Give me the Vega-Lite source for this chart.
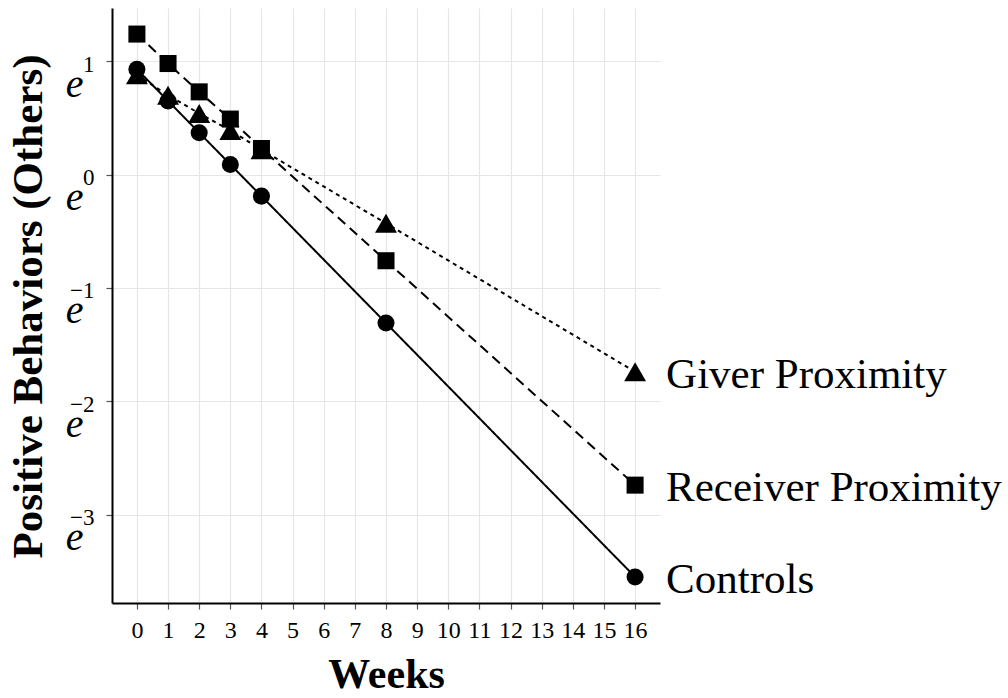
{
  "$schema": "https://vega.github.io/schema/vega-lite/v6.json",
  "width": 548,
  "height": 595,
  "autosize": {"type": "none"},
  "padding": {"left": 112, "top": 8, "right": 348, "bottom": 95},
  "background": "white",
  "config": {
    "view": {"stroke": null},
    "font": "Liberation Serif",
    "axis": {"labelFont": "Liberation Serif", "titleFont": "Liberation Serif"}
  },
  "data": {
    "values": [
      {"group": "Controls", "week": 0, "value": 0.93},
      {"group": "Controls", "week": 1, "value": 0.65},
      {"group": "Controls", "week": 2, "value": 0.37},
      {"group": "Controls", "week": 3, "value": 0.09},
      {"group": "Controls", "week": 4, "value": -0.19},
      {"group": "Controls", "week": 8, "value": -1.31},
      {"group": "Controls", "week": 16, "value": -3.55},
      {"group": "Receiver Proximity", "week": 0, "value": 1.24},
      {"group": "Receiver Proximity", "week": 1, "value": 0.98},
      {"group": "Receiver Proximity", "week": 2, "value": 0.73},
      {"group": "Receiver Proximity", "week": 3, "value": 0.49},
      {"group": "Receiver Proximity", "week": 4, "value": 0.23},
      {"group": "Receiver Proximity", "week": 8, "value": -0.76},
      {"group": "Receiver Proximity", "week": 16, "value": -2.74},
      {"group": "Giver Proximity", "week": 0, "value": 0.88},
      {"group": "Giver Proximity", "week": 1, "value": 0.70},
      {"group": "Giver Proximity", "week": 2, "value": 0.54},
      {"group": "Giver Proximity", "week": 3, "value": 0.39},
      {"group": "Giver Proximity", "week": 4, "value": 0.22},
      {"group": "Giver Proximity", "week": 8, "value": -0.43},
      {"group": "Giver Proximity", "week": 16, "value": -1.74}
    ]
  },
  "encoding": {
    "x": {
      "field": "week",
      "type": "quantitative",
      "scale": {"domain": [-0.8, 16.8], "nice": false, "zero": false},
      "axis": {
        "title": "Weeks",
        "titleFontSize": 42,
        "titleFontWeight": "bold",
        "titleColor": "black",
        "titleY": 84,
        "titleBaseline": "alphabetic",
        "values": [0, 1, 2, 3, 4, 5, 6, 7, 8, 9, 10, 11, 12, 13, 14, 15, 16],
        "labelFontSize": 24,
        "labelColor": "black",
        "labelPadding": 9,
        "labelFlush": false,
        "labelOverlap": false,
        "tickSize": 6,
        "tickColor": "#555555",
        "tickWidth": 1.2,
        "domainColor": "black",
        "domainWidth": 2,
        "grid": true,
        "gridColor": "#e6e6e6",
        "gridWidth": 1.2
      }
    }
  },
  "layer": [
    {
      "mark": {"type": "line", "color": "black", "strokeWidth": 2},
      "encoding": {
        "y": {
          "field": "value",
          "type": "quantitative",
          "scale": {"domain": [-3.78, 1.47], "nice": false, "zero": false},
          "axis": {
            "orient": "left",
            "title": "Positive Behaviors (Others)",
            "titleFontSize": 43,
            "titleFontWeight": "bold",
            "titleColor": "black",
            "titleX": -84,
            "titleY": 298,
            "titleAngle": -90,
            "titleAlign": "center",
            "titleBaseline": "middle",
            "values": [-3, -2, -1, 0, 1],
            "labelExpr": "'e'",
            "labelFontSize": 40,
            "labelFontStyle": "italic",
            "labelColor": "black",
            "labelAlign": "right",
            "labelBaseline": "alphabetic",
            "labelOffset": 35,
            "labelPadding": 23,
            "labelFlush": false,
            "labelOverlap": false,
            "tickSize": 6,
            "tickColor": "#555555",
            "tickWidth": 1.2,
            "domainColor": "black",
            "domainWidth": 2,
            "grid": true,
            "gridColor": "#e6e6e6",
            "gridWidth": 1.2
          }
        },
        "detail": {"field": "group"},
        "strokeDash": {
          "field": "group",
          "type": "nominal",
          "scale": {
            "domain": ["Controls", "Receiver Proximity", "Giver Proximity"],
            "range": [[1, 0], [10, 6], [4, 4]]
          },
          "legend": null
        }
      }
    },
    {
      "transform": [{"filter": "datum.group != 'Giver Proximity'"}],
      "mark": {"type": "point", "filled": true, "color": "black", "opacity": 1, "size": 290},
      "encoding": {
        "y": {
          "field": "value",
          "type": "quantitative",
          "scale": {"domain": [-3.78, 1.47], "nice": false, "zero": false},
          "axis": {
            "orient": "left",
            "title": null,
            "values": [-3, -2, -1, 0, 1],
            "labelExpr": "datum.value < 0 ? '\u2212' + (-datum.value) : '' + datum.value",
            "labelFontSize": 23,
            "labelColor": "black",
            "labelAlign": "right",
            "labelBaseline": "middle",
            "labelOffset": 3,
            "labelPadding": 18,
            "labelFlush": false,
            "labelOverlap": false,
            "ticks": false,
            "tickSize": 0,
            "domain": false,
            "grid": false
          }
        },
        "shape": {
          "field": "group",
          "type": "nominal",
          "scale": {
            "domain": ["Controls", "Receiver Proximity"],
            "range": ["circle", "square"]
          },
          "legend": null
        }
      }
    },
    {
      "transform": [{"filter": "datum.group == 'Giver Proximity'"}],
      "mark": {"type": "point", "shape": "triangle-up", "filled": true, "color": "black", "opacity": 1, "size": 480},
      "encoding": {
        "y": {
          "field": "value",
          "type": "quantitative",
          "scale": {"domain": [-3.78, 1.47], "nice": false, "zero": false},
          "axis": null
        }
      }
    },
    {
      "transform": [{"filter": "datum.week == 16"}],
      "mark": {"type": "text", "align": "left", "baseline": "middle", "dx": 31, "dy": 3, "fontSize": 43, "font": "Liberation Serif", "color": "black", "clip": false},
      "encoding": {
        "y": {
          "field": "value",
          "type": "quantitative",
          "scale": {"domain": [-3.78, 1.47], "nice": false, "zero": false},
          "axis": null
        },
        "text": {"field": "group"}
      }
    }
  ],
  "resolve": {"axis": {"y": "independent"}}
}
